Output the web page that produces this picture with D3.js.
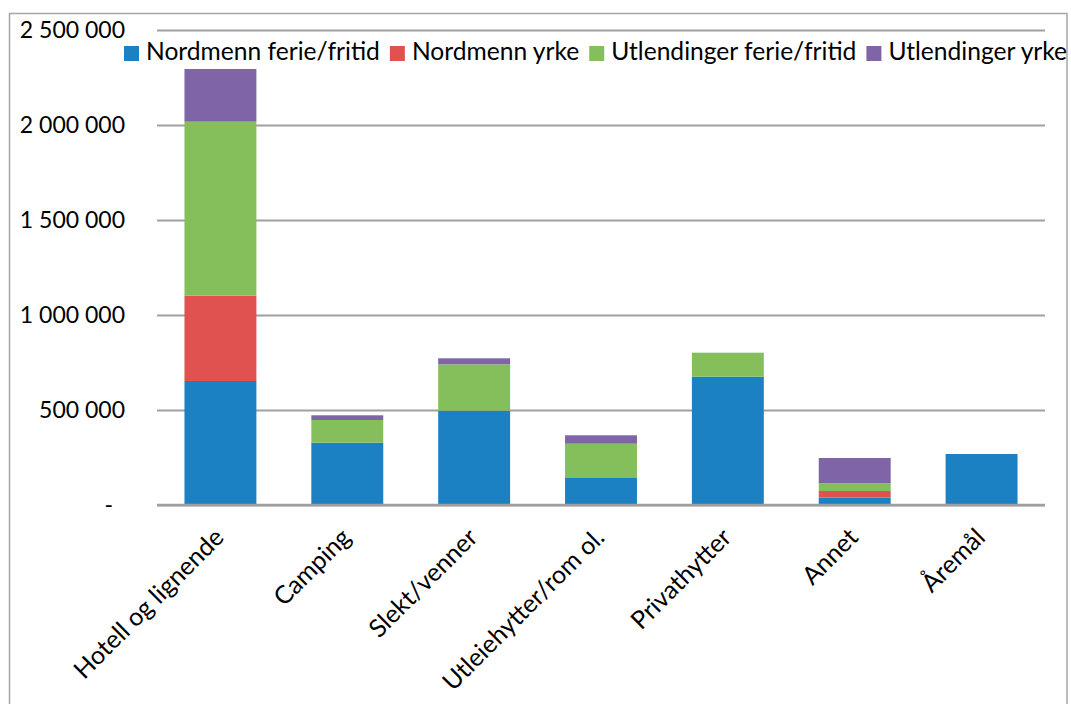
<!DOCTYPE html>
<html><head><meta charset="utf-8">
<script src="https://cdn.jsdelivr.net/npm/d3@7"></script>
<style>
html,body{margin:0;padding:0;background:#fff;}
svg text{font-family:Lato,"Open Sans",sans-serif;fill:#000;}
</style></head>
<body><svg id="chart" width="1071" height="704"></svg>
<script>
const categories = ["Hotell og lignende","Camping","Slekt/venner","Utleiehytter/rom ol.","Privathytter","Annet","Åremål"];
const seriesNames = ["Nordmenn ferie/fritid","Nordmenn yrke","Utlendinger ferie/fritid","Utlendinger yrke"];
const nordmennFerie = [652600, 327900, 496300, 142100, 675300, 38400, 268400];
const nordmennYrke = [449000, 0, 0, 0, 0, 35300, 0];
const utlendingerFerie = [915800, 119500, 244200, 180500, 126300, 40500, 0];
const utlendingerYrke = [277300, 24700, 31600, 44200, 0, 133200, 0];
const yTicks = [0, 500000, 1000000, 1500000, 2000000, 2500000];
const colors = ["#1B81C2", "#E0524F", "#84BF5B", "#8064A8"];

(function () {
const svg = d3.select("#chart");
const fsTick = 23, fsLegend = 24.6, fsCat = 25;
const mLeft = 157, mRight = 1045, mTop = 30, mBottom = 505;

const rows = categories.map((c, i) => ({cat: c, s0: nordmennFerie[i], s1: nordmennYrke[i], s2: utlendingerFerie[i], s3: utlendingerYrke[i]}));
const stack = d3.stack().keys(["s0","s1","s2","s3"])(rows);

const x = d3.scaleBand().domain(categories).range([mLeft, mRight]).paddingInner(0.433).paddingOuter(0.2165);
const y = d3.scaleLinear().domain([0, 2500000]).range([mBottom, mTop]);

svg.append("rect").attr("x", 9.5).attr("y", 13.5).attr("width", 1057.5).attr("height", 720)
  .attr("fill", "none").attr("stroke", "#A6A6A6").attr("stroke-width", 1.5);

const fmt = v => v === 0 ? "-" : d3.format(",")(v).replace(/,/g, " ");
const yAxis = d3.axisLeft(y).tickValues(yTicks).tickSize(-(mRight - mLeft)).tickPadding(32).tickFormat(fmt);
const gy = svg.append("g").attr("transform", `translate(${mLeft},0)`).call(yAxis);
gy.select(".domain").remove();
gy.selectAll(".tick line").attr("stroke", "#A0A0A0").attr("stroke-width", 2);
gy.selectAll(".tick text").attr("font-size", fsTick).attr("dy", "0.34em")
  .style("font-family", "Lato, 'Open Sans', sans-serif")
  .attr("x", d => d === 0 ? -44 : -32);

svg.append("g").selectAll("g").data(stack).join("g")
  .attr("fill", (d, i) => colors[i])
  .selectAll("rect").data(d => d.filter(p => p[1] - p[0] > 0)).join("rect")
  .attr("x", d => x(d.data.cat))
  .attr("width", x.bandwidth())
  .attr("y", d => y(d[1]))
  .attr("height", d => y(d[0]) - y(d[1]));

svg.append("line").attr("x1", mLeft).attr("x2", mRight).attr("y1", y(0)).attr("y2", y(0))
  .attr("stroke", "#A0A0A0").attr("stroke-width", 2.5);

const xAxis = d3.axisBottom(x).tickSize(0).tickPadding(0);
const gx = svg.append("g").attr("transform", `translate(0,${mBottom})`).call(xAxis);
gx.select(".domain").remove();
gx.selectAll(".tick text").attr("font-size", fsCat)
  .style("font-family", "Lato, 'Open Sans', sans-serif")
  .attr("text-anchor", "end").attr("y", 0).attr("dy", 0)
  .attr("transform", "translate(5,34) rotate(-45)");

const lg = svg.append("g");
let lx = 124;
seriesNames.forEach((n, i) => {
  lg.append("rect").attr("x", lx).attr("y", 46).attr("width", 15).attr("height", 15).attr("fill", colors[i]);
  const t = lg.append("text").attr("x", lx + 22).attr("y", 60).attr("font-size", fsLegend).text(n);
  const w = t.node().getComputedTextLength();
  lx = lx + 22 + w + 10;
});
})();
</script></body></html>
